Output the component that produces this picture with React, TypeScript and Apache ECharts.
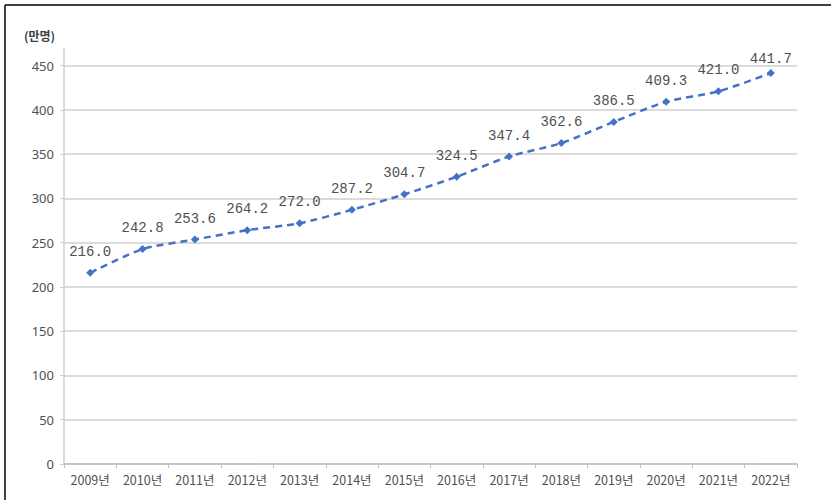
import React, { useEffect, useRef } from "react";
import * as echarts from "echarts";

const categories = ["2009년", "2010년", "2011년", "2012년", "2013년", "2014년", "2015년", "2016년", "2017년", "2018년", "2019년", "2020년", "2021년", "2022년"];
const values = [216.0, 242.8, 253.6, 264.2, 272.0, 287.2, 304.7, 324.5, 347.4, 362.6, 386.5, 409.3, 421.0, 441.7];
const unitLabel = "(만명)";

export default function App() {
  const ref = useRef<HTMLDivElement>(null);
  useEffect(() => {
    if (!ref.current) return;
    const chart = echarts.init(ref.current, undefined, { renderer: "svg" });
    const splitColors = Array.from({ length: 11 }, (_, i) => (i === 10 ? "transparent" : "#cfcfcf"));
    chart.setOption({
      animation: false,
      backgroundColor: "#ffffff",
      grid: { left: 64, right: 34, top: 48, bottom: 36, containLabel: false },
      xAxis: {
        type: "category",
        data: categories,
        boundaryGap: true,
        axisLine: { show: true, lineStyle: { color: "#bfbfbf", width: 1.5 } },
        axisTick: { show: true, length: 4, alignWithLabel: false, lineStyle: { color: "#bfbfbf" } },
        axisLabel: { color: "#505050", fontSize: 12.5, margin: 9, fontFamily: "'Noto Sans CJK KR', 'Noto Sans', sans-serif" },
        splitLine: { show: false },
      },
      yAxis: {
        type: "value",
        min: 0,
        max: 470,
        interval: 50,
        axisLine: { show: true, lineStyle: { color: "#cfcfcf", width: 1.5 } },
        axisTick: { show: true, length: 4, lineStyle: { color: "#cfcfcf" } },
        axisLabel: {
          color: "#505050",
          fontSize: 13,
          margin: 10,
          showMaxLabel: false,
          fontFamily: "'Noto Sans', Roboto, sans-serif",
          formatter: (v: number) => (v === 470 ? "" : String(v)),
        },
        splitLine: { show: true, lineStyle: { color: splitColors, width: 1.5 } },
      },
      graphic: [
        { type: "line", shape: { x1: 5, y1: 5, x2: 831, y2: 5 }, style: { stroke: "#000", lineWidth: 1.5 } },
        { type: "line", shape: { x1: 5, y1: 5, x2: 5, y2: 500 }, style: { stroke: "#000", lineWidth: 1.5 } },
        {
          type: "text",
          left: 24,
          top: 29,
          style: { text: unitLabel, fill: "#404040", fontSize: 12, fontWeight: "bold", fontFamily: "'Noto Sans CJK KR', sans-serif" },
        },
      ],
      series: [
        {
          type: "line",
          data: values.map((v, i) =>
            i === values.length - 1 ? { value: v, label: { offset: [0, 7] } } : v
          ),
          smooth: 0.25,
          symbol: "diamond",
          symbolSize: 8,
          itemStyle: { color: "#4472c4" },
          lineStyle: { color: "#4472c4", width: 2.5, type: [7, 5] },
          label: {
            show: true,
            position: "top",
            distance: 10,
            color: "#505050",
            fontSize: 14,
            fontFamily: "'Liberation Mono', 'DejaVu Sans Mono', monospace",
            formatter: (p: any) => Number(p.value).toFixed(1),
          },
        },
      ],
    });
    return () => chart.dispose();
  }, []);
  return <div ref={ref} style={{ position: "fixed", left: 0, top: 0, width: 831, height: 500 }} />;
}
